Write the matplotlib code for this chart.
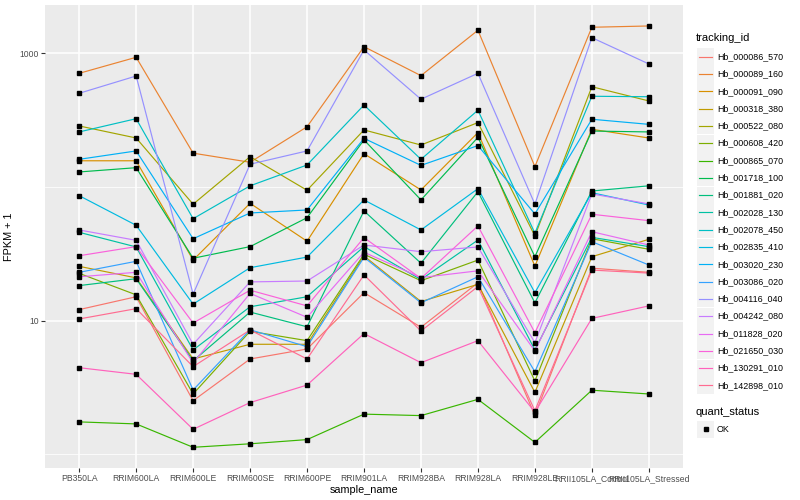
import numpy as np
import matplotlib
matplotlib.use("Agg")
import matplotlib.pyplot as plt
from matplotlib.lines import Line2D
from matplotlib.patches import Rectangle

plt.rcParams['font.family'] = ['Liberation Sans', 'DejaVu Sans']

samples = ['PB350LA', 'RRIM600LA', 'RRIM600LE', 'RRIM600SE', 'RRIM600PE', 'RRIM901LA',
           'RRIM928BA', 'RRIM928LA', 'RRIM928LE', 'RRII105LA_Control', 'RRII105LA_Stressed']

tracking_ids = ['Hb_000086_570', 'Hb_000089_160', 'Hb_000091_090', 'Hb_000318_380',
                'Hb_000522_080', 'Hb_000608_420', 'Hb_000865_070', 'Hb_001718_100',
                'Hb_001881_020', 'Hb_002028_130', 'Hb_002078_450', 'Hb_002835_410',
                'Hb_003020_230', 'Hb_003086_020', 'Hb_004116_040', 'Hb_004242_080',
                'Hb_011828_020', 'Hb_021650_030', 'Hb_130291_010', 'Hb_142898_010']

# ggplot hue palette, 20 levels
colors = ['#F8766D', '#EA8331', '#D89000', '#C09B00', '#A3A500', '#7CAE00', '#39B600',
          '#00BB4E', '#00BF7D', '#00C1A3', '#00BFC4', '#00BAE0', '#00B0F6', '#35A2FF',
          '#9590FF', '#C77CFF', '#E76BF3', '#FA62DB', '#FF62BC', '#FF6C91']

# FPKM + 1 per gene, one value per sample
hb_000086_570 = [12.1, 15.1, 2.52, 5.17, 6.14, 16.2, 8.93, 19.2, 1.96, 24.7, 23.0]
hb_000089_160 = [708, 933, 179, 153, 282, 1120, 680, 1486, 142, 1565, 1600]
hb_000091_090 = [157, 157, 28.4, 75.5, 39.3, 177.5, 95, 255, 25.6, 270, 232.5]
hb_000318_380 = [25.5, 20.9, 5.17, 6.66, 6.66, 30.5, 13.9, 18.7, 2.91, 30.1, 40.6]
hb_000522_080 = [286, 232.5, 74.3, 168.5, 94.5, 267, 206, 303, 43, 562, 440]
hb_000608_420 = [22.6, 15.6, 2.83, 8.33, 7.09, 31.4, 19.9, 28.4, 3.54, 41, 34.2]
hb_000865_070 = [1.75, 1.69, 1.13, 1.20, 1.29, 2.0, 1.95, 2.58, 1.23, 3.02, 2.83]
hb_001718_100 = [129.5, 139.4, 29.3, 35.8, 58.9, 225, 80, 235, 30.1, 262, 258]
hb_001881_020 = [18.3, 20.6, 5.0, 11.6, 9.0, 66.2, 26.9, 92.2, 13.6, 93.3, 102]
hb_002028_130 = [45.8, 35.6, 6.04, 12.7, 15.1, 35.8, 20.3, 40.1, 6.04, 42.0, 35.8]
hb_002078_450 = [258, 324, 57.9, 102, 146, 410, 161, 375, 45.1, 477, 473]
hb_002835_410 = [86.1, 51.7, 13.3, 24.9, 29.9, 80, 47.7, 97.1, 16.2, 90.6, 73.3]
hb_003020_230 = [161, 186, 41, 63.9, 67.3, 231, 145, 204, 62.8, 321, 294]
hb_003086_020 = [23, 27.8, 3.03, 8.55, 6.39, 29.8, 13.6, 21.3, 4.15, 39, 26.1]
hb_004116_040 = [502, 676, 15.8, 148, 186, 1059, 453, 708, 74.3, 1309, 832]
hb_004242_080 = [47.7, 39.9, 6.66, 19.5, 19.8, 36.8, 32.8, 35.6, 6.85, 88.7, 74.7]
hb_011828_020 = [21.3, 23, 4.83, 16, 10.6, 32.5, 21, 23.6, 5.93, 46.3, 36.8]
hb_021650_030 = [30.6, 35.8, 9.6, 16.9, 12.9, 41.8, 20.7, 51.1, 8.13, 62.5, 56]
hb_130291_010 = [4.45, 3.97, 1.54, 2.44, 3.30, 8.01, 4.85, 7.09, 2.07, 10.4, 12.9]
hb_142898_010 = [10.3, 12.3, 4.53, 8.52, 5.17, 22, 8.37, 18, 2.12, 23.9, 22.7]

series = [hb_000086_570, hb_000089_160, hb_000091_090, hb_000318_380, hb_000522_080,
          hb_000608_420, hb_000865_070, hb_001718_100, hb_001881_020, hb_002028_130,
          hb_002078_450, hb_002835_410, hb_003020_230, hb_003086_020, hb_004116_040,
          hb_004242_080, hb_011828_020, hb_021650_030, hb_130291_010, hb_142898_010]

W, H = 800, 500
fig = plt.figure(figsize=(8, 5), dpi=100)
ax = fig.add_axes([45 / W, 1 - 468 / H, (683 - 45) / W, (468 - 5) / H])
ax.set_facecolor('#EBEBEB')
for s in ax.spines.values():
    s.set_visible(False)

x = np.arange(len(samples))
for vals, c in zip(series, colors):
    ax.plot(x, vals, color=c, lw=0.85, zorder=3)
for vals in series:
    ax.plot(x, vals, 's', color='black', ms=2.6, zorder=4, lw=0)

ax.set_yscale('log')
ax.set_ylim(0.791, 2296)
ax.set_xlim(-0.6, len(samples) - 0.4)

ax.set_yticks([10, 1000])
ax.set_yticklabels(['10', '1000'])
ax.set_yticks([1, 100], minor=True)
ax.yaxis.set_minor_formatter(matplotlib.ticker.NullFormatter())
ax.set_xticks(x)
ax.set_xticklabels(samples)

ax.grid(True, which='major', color='white', lw=1.1, zorder=0)
ax.grid(True, which='minor', axis='y', color='white', lw=0.55, zorder=0)
ax.set_axisbelow(True)
ax.tick_params(which='major', length=2.8, width=0.8, color='#333333',
               labelsize=6.2, labelcolor='#4D4D4D', pad=1.5)
ax.tick_params(which='minor', length=0)

ax.set_xlabel('sample_name', fontsize=7.8, labelpad=1.5)
ax.set_ylabel('FPKM + 1', fontsize=7.8, labelpad=4)


def fx(px):
    return px / W


def fy(py):
    return 1 - py / H


# legend: tracking_id
fig.text(fx(696), fy(38), 'tracking_id', fontsize=8, va='center', ha='left')
for i, (name, c) in enumerate(zip(tracking_ids, colors)):
    yc = 56.7 + i * 17.3
    fig.patches.append(Rectangle((fx(697), fy(yc + 8.5)), 17 / W, 17 / H,
                                 transform=fig.transFigure, facecolor='#F2F2F2',
                                 edgecolor='none'))
    fig.lines.append(Line2D([fx(699), fx(712)], [fy(yc), fy(yc)],
                            transform=fig.transFigure, color=c, lw=0.85))
    fig.text(fx(717), fy(yc), name, fontsize=6.4, va='center', ha='left')

# legend: quant_status
fig.text(fx(696), fy(412), 'quant_status', fontsize=8, va='center', ha='left')
fig.patches.append(Rectangle((fx(697), fy(429 + 8.5)), 17 / W, 17 / H,
                             transform=fig.transFigure, facecolor='#F2F2F2',
                             edgecolor='none'))
fig.lines.append(Line2D([fx(705.5)], [fy(429)], transform=fig.transFigure,
                        marker='s', color='black', ms=2.6, lw=0))
fig.text(fx(717), fy(429), 'OK', fontsize=6.4, va='center', ha='left')

fig.savefig('out.png', dpi=100)
